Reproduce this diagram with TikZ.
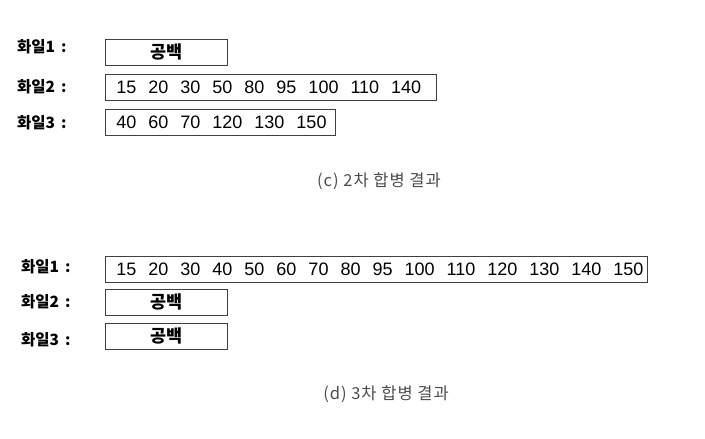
\documentclass[tikz,border=0pt]{standalone}
\usepackage{fontspec}
\setmainfont{Liberation Sans}
\newfontfamily\kr{Noto Sans CJK KR}
\usetikzlibrary{positioning}

% numbers in a row, wide gaps
\newcommand{\numrow}[1]{\mbox{\foreach \n [count=\k] in {#1}{\ifnum\k>1\hspace{12pt}\fi\n}}}

\begin{document}
\begin{tikzpicture}[
    x=1pt, y=-1pt,
    filebox/.style={draw=black!75, line width=0.8pt, minimum height=26pt, inner ysep=0pt, anchor=north west, font=\fontsize{18}{20}\selectfont},
    numbox/.style={filebox, inner xsep=11pt, text width=#1, align=left},
    blankbox/.style={filebox, minimum width=122pt, font=\kr\bfseries\fontsize{17.5}{19}\selectfont},
    filelabel/.style={anchor=west, inner sep=0pt, font=\kr\bfseries\fontsize{15.5}{17}\selectfont},
    caption/.style={inner sep=0pt, text=black!70, font=\kr\fontsize{16.5}{18}\selectfont\addfontfeature{LetterSpace=6}}
]
    \useasboundingbox (0,0) rectangle (705,439);

    % (c) after the second merge
    \node[filelabel] (c1) at (17,47) {화일1\hspace{6pt}:};
    \node[filelabel] (c2) at (17,87) {화일2\hspace{6pt}:};
    \node[filelabel] (c3) at (17,123) {화일3\hspace{6pt}:};

    \node[blankbox] (cf1) at (105,39) {공백};
    \node[numbox=309pt] (cf2) at (105,74) {\numrow{15,20,30,50,80,95,100,110,140}};
    \node[numbox=208pt] (cf3) at (105,109) {\numrow{40,60,70,120,130,150}};

    \node[caption] (capc) at (379,181) {(c) 2차 합병 결과};

    % (d) after the third merge
    \node[filelabel] (d1) at (21,267) {화일1\hspace{6pt}:};
    \node[filelabel] (d2) at (21,302) {화일2\hspace{6pt}:};
    \node[filelabel] (d3) at (21,340) {화일3\hspace{6pt}:};

    \node[numbox=520pt] (df1) at (105,256) {\numrow{15,20,30,40,50,60,70,80,95,100,110,120,130,140,150}};
    \node[blankbox] (df2) at (105,289) {공백};
    \node[blankbox] (df3) at (105,323) {공백};

    \node[caption] (capd) at (386,394) {(d) 3차 합병 결과};

\end{tikzpicture}
\end{document}
